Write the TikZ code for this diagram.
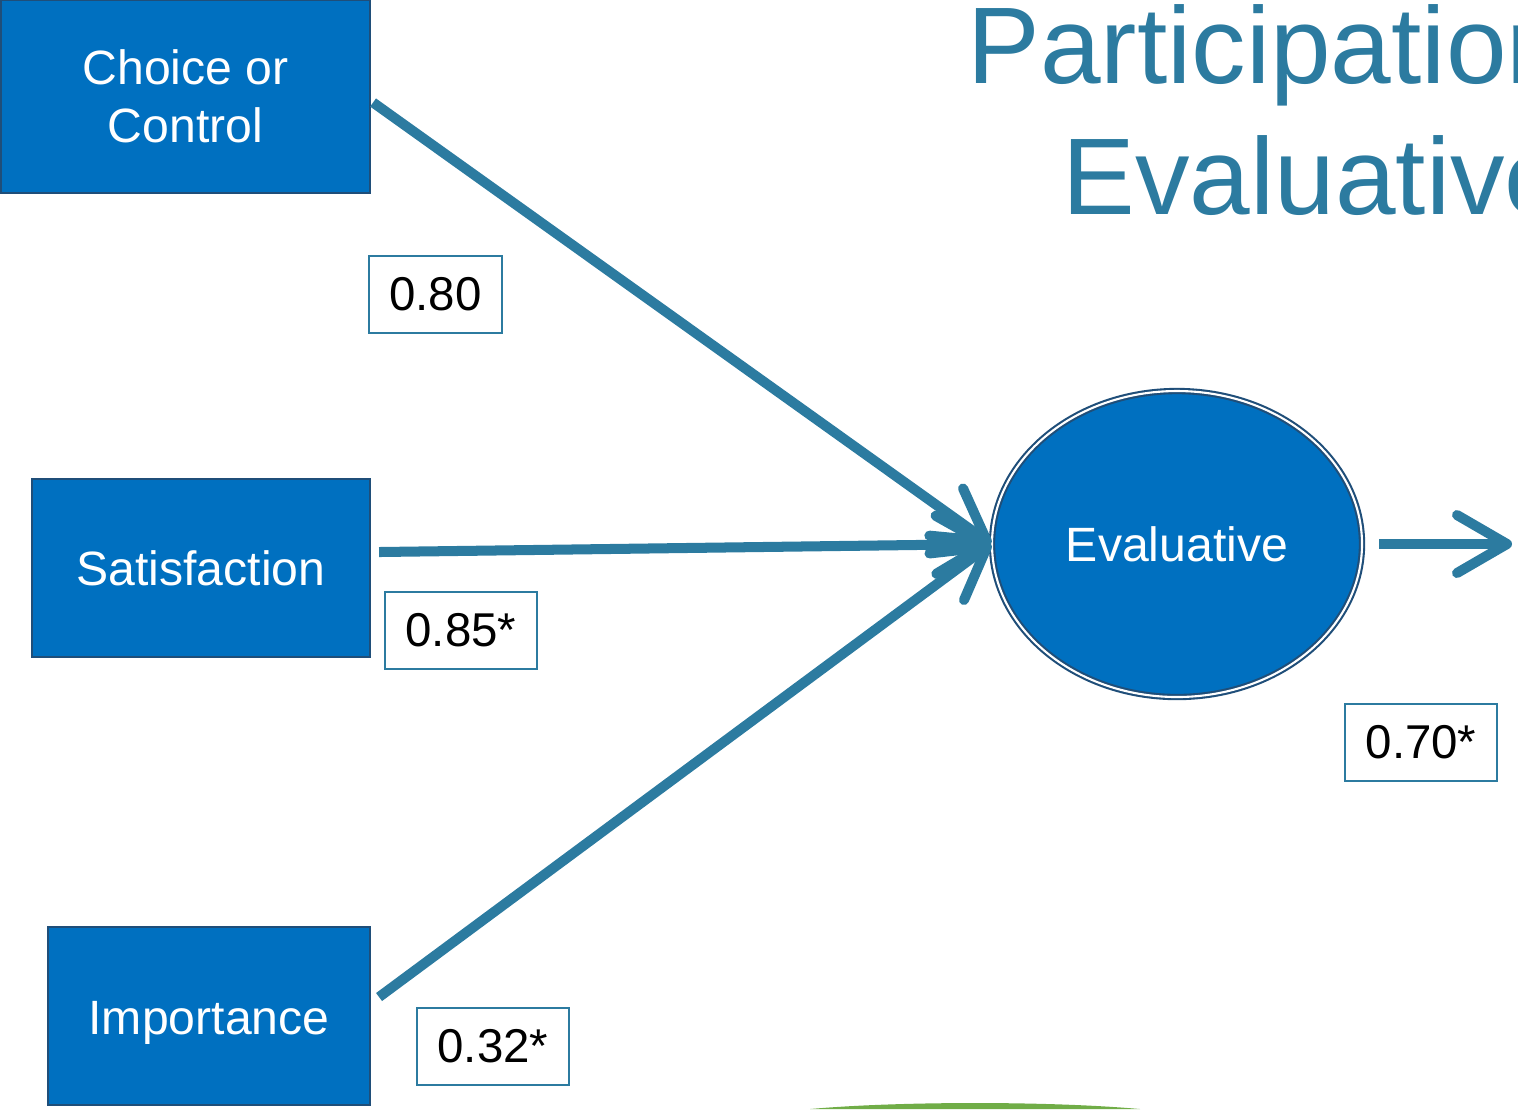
\documentclass[tikz,border=0pt]{standalone}
\usepackage{fontspec}
\setmainfont{Liberation Sans}
\usetikzlibrary{arrows.meta,shapes.geometric}
\definecolor{boxblue}{RGB}{0,112,192}
\definecolor{pathblue}{RGB}{44,123,160}
\definecolor{edgeblue}{RGB}{31,78,121}
\definecolor{leafgreen}{RGB}{112,173,71}
\newcommand*{\ttl}[1]{\fontsize{31}{37}\selectfont #1}

\begin{document}
\begin{tikzpicture}[x=0.1mm,y=-0.1mm,
  factor/.style={draw=edgeblue,line width=0.6pt,fill=boxblue,text=white,align=center,inner sep=0pt,font=\fontsize{13.7}{16.5}\selectfont},
  coef/.style={draw=pathblue,line width=0.7pt,minimum height=0.77cm,inner sep=0pt,font=\fontsize{13.5}{16}\selectfont},
  link/.style={draw=pathblue,line width=2.85pt,-{Straight Barb[round,length=5mm,width=5.8mm]}}]
\clip (0,0) rectangle (1518,1109);

\node[anchor=base west,inner sep=0pt,text=pathblue] (title1) at (967,83) {\ttl{Participation}};
\node[anchor=base west,inner sep=0pt,text=pathblue] (title2) at (1062,214) {\ttl{Evaluative}};

\node[factor,minimum width=3.69cm,minimum height=1.93cm] (choice) at (185.5,96.5) {Choice or\\Control};
\node[factor,minimum width=3.38cm,minimum height=1.78cm] (sat) at (201,568) {Satisfaction};
\node[factor,minimum width=3.22cm,minimum height=1.78cm] (imp) at (209,1016) {\raisebox{-1.8mm}[0pt][0pt]{Importance}};
\node[factor,ellipse,minimum width=3.7cm,minimum height=3.06cm,double=white,double distance=0.6pt] (eval) at (1177,544) {Evaluative};
\coordinate (out) at (1512,544);

\draw[link] ([shift={(2,6)}]choice.east) -- (eval.west);
\draw[link] ([shift={(8,-16)}]sat.east) -- (eval.west);
\draw[link] ([shift={(8,-19)}]imp.east) -- (eval.west);
\draw[link,shorten <=1.6mm] (eval.east) -- (out);

\node[coef,minimum width=1.33cm] (c1) at (435.5,294.5) {0.80};
\node[coef,minimum width=1.52cm] (c2) at (461,630.5) {0.85*};
\node[coef,minimum width=1.52cm] (c3) at (493,1046.5) {0.32*};
\node[coef,minimum width=1.52cm] (c4) at (1421,742.5) {0.70*};

\fill[leafgreen] (810,1109) .. controls (900,1101) and (1050,1101) .. (1140,1109) -- cycle;
\end{tikzpicture}
\end{document}
